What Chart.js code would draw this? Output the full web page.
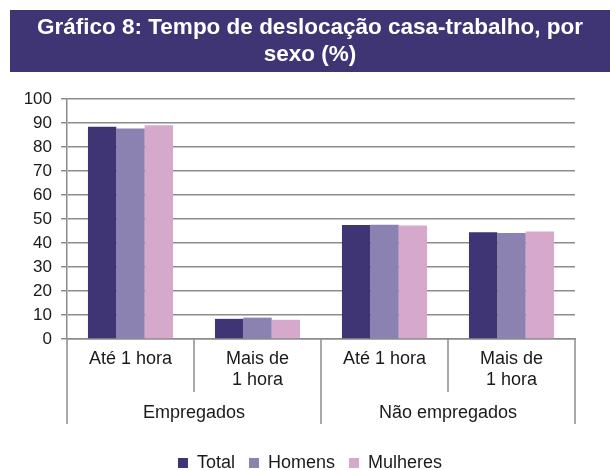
<!DOCTYPE html>
<html>
<head>
<meta charset="utf-8">
<script src="https://cdn.jsdelivr.net/npm/chart.js@4"></script>
<style>
  html, body { margin: 0; padding: 0; background: #fff; }
  #wrap { position: relative; width: 610px; height: 470px; }
</style>
</head>
<body>
<div id="wrap"><canvas id="chartDeslocacao"></canvas></div>
<script>
const titleLines = ['Gráfico 8: Tempo de deslocação casa-trabalho, por', 'sexo (%)'];
const subCategories = [['Até 1 hora'], ['Mais de', '1 hora'], ['Até 1 hora'], ['Mais de', '1 hora']];
const groups = ['Empregados', 'Não empregados'];
const seriesNames = ['Total', 'Homens', 'Mulheres'];
const totalValues = [88.4, 8.4, 47.5, 44.5];
const homensValues = [87.7, 8.9, 47.6, 44.2];
const mulheresValues = [89.1, 8.0, 47.3, 44.8];
const seriesColors = ['#3F3474', '#8B82B2', '#D6A8CB'];

const FONT = "'Liberation Sans', Arial, sans-serif";
const BANNER_GAP = 27;

// purple banner behind the title
const titleBanner = {
    id: 'titleBanner',
    beforeDraw(chart) {
        const t = chart.titleBlock;
        const ctx = chart.ctx;
        ctx.save();
        ctx.fillStyle = '#3F3474';
        ctx.fillRect(t.left, t.top, t.right - t.left, t.bottom - t.top - BANNER_GAP);
        ctx.restore();
    }
};

// separators and group labels under the x axis
const groupAxis = {
    id: 'groupAxis',
    afterDraw(chart) {
        const x = chart.scales.x;
        const bottom = chart.chartArea.bottom;
        const ctx = chart.ctx;
        const n = subCategories.length;
        const edges = [];
        for (let i = 0; i <= n; i++) {
            if (i === 0) edges.push(x.left);
            else if (i === n) edges.push(x.right);
            else edges.push((x.getPixelForValue(i - 1) + x.getPixelForValue(i)) / 2);
        }
        ctx.save();
        ctx.strokeStyle = '#8c8c8c';
        ctx.lineWidth = 1.5;
        edges.forEach((px, i) => {
            const len = i % 2 === 0 ? 85 : 53;
            ctx.beginPath();
            ctx.moveTo(px, bottom);
            ctx.lineTo(px, bottom + len);
            ctx.stroke();
        });
        ctx.fillStyle = '#1a1a1a';
        ctx.font = '18px ' + FONT;
        ctx.textAlign = 'center';
        ctx.textBaseline = 'middle';
        groups.forEach((g, i) => {
            ctx.fillText(g, (edges[i * 2] + edges[i * 2 + 2]) / 2, bottom + 74);
        });
        ctx.restore();
    }
};

const ChartDeslocacao = new Chart(
    document.getElementById('chartDeslocacao'), {
        type: 'bar',
        plugins: [titleBanner, groupAxis],
        data: {
            labels: subCategories,
            datasets: [
                { label: seriesNames[0], data: totalValues, backgroundColor: seriesColors[0] },
                { label: seriesNames[1], data: homensValues, backgroundColor: seriesColors[1] },
                { label: seriesNames[2], data: mulheresValues, backgroundColor: seriesColors[2] },
            ]
        },
        options: {
            responsive: true,
            maintainAspectRatio: false,
            animation: false,
            layout: {
                padding: { top: 10, left: 10, right: 0, bottom: -12 }
            },
            datasets: {
                bar: { barPercentage: 1, categoryPercentage: 0.67 }
            },
            scales: {
                x: {
                    grid: { display: false, drawTicks: false },
                    border: { display: true, color: '#8c8c8c', width: 1.5 },
                    ticks: {
                        color: '#1a1a1a',
                        padding: 9,
                        maxRotation: 0,
                        autoSkip: false,
                        font: { family: FONT, size: 18, lineHeight: 1.2 }
                    },
                    afterFit: (s) => { s.height = 101; }
                },
                y: {
                    min: 0,
                    max: 100,
                    ticks: {
                        stepSize: 10,
                        color: '#1a1a1a',
                        padding: 9,
                        font: { family: FONT, size: 17 }
                    },
                    grid: { color: '#8c8c8c', lineWidth: 1.5, tickLength: 6 },
                    border: { display: true, color: '#8c8c8c', width: 1.5 },
                    afterFit: (s) => { s.width = 57; }
                },
                y2: {
                    position: 'right',
                    display: true,
                    grid: { display: false },
                    border: { display: false },
                    ticks: { display: false },
                    afterFit: (s) => { s.width = 35; }
                }
            },
            plugins: {
                title: {
                    display: true,
                    text: titleLines,
                    color: '#ffffff',
                    font: { family: FONT, size: 22.5, weight: 'bold', lineHeight: 1.2 },
                    padding: { top: 4, bottom: 4 + BANNER_GAP }
                },
                legend: {
                    position: 'bottom',
                    labels: {
                        boxWidth: 10,
                        boxHeight: 10,
                        padding: 14,
                        color: '#1a1a1a',
                        font: { family: FONT, size: 18 }
                    }
                },
                tooltip: { enabled: false }
            }
        }
    }
);
</script>
</body>
</html>
